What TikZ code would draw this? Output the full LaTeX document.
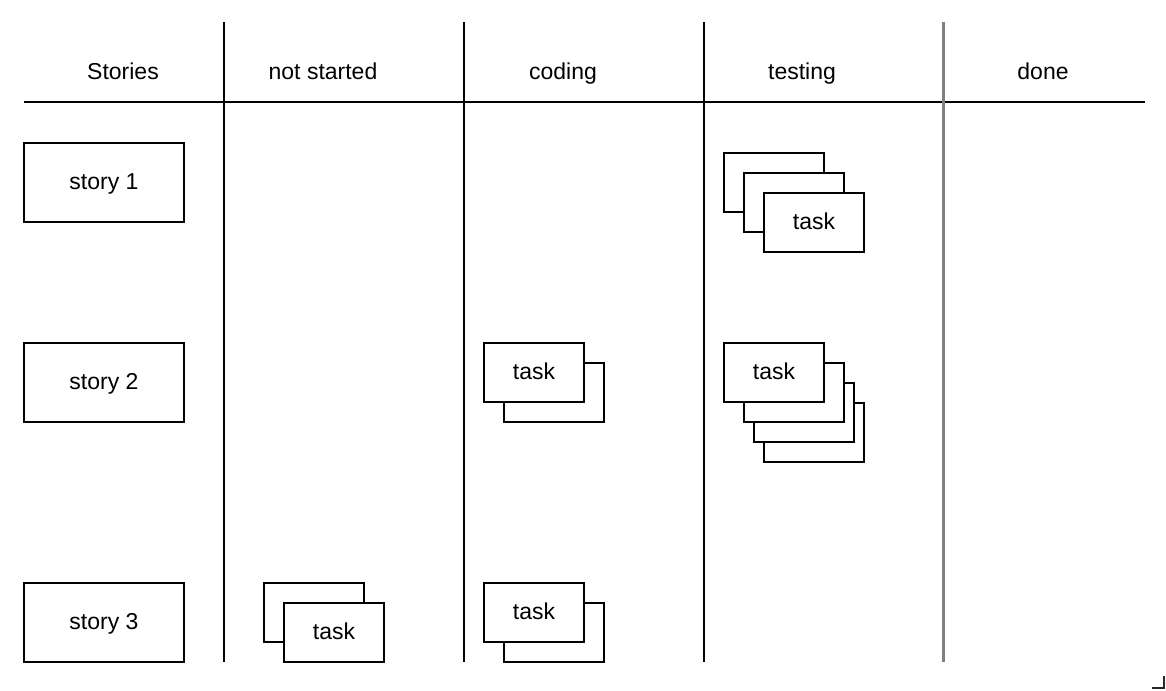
\documentclass[tikz,border=0pt]{standalone}
\usepackage{fontspec}
\setmainfont{Liberation Sans}
\usetikzlibrary{positioning}

\begin{document}
\begin{tikzpicture}[x=1pt,y=1pt,yscale=-1,xscale=1,
  lbl/.style={inner sep=0pt,text height=15,text depth=4,font=\fontsize{23}{27}\selectfont},
  story/.style={draw=black,line width=1.8,fill=white,minimum width=160,minimum height=79,inner sep=0pt,text height=15,text depth=2,font=\fontsize{23}{27}\selectfont},
  card/.style={draw=black,line width=1.8,fill=white,minimum width=100,minimum height=59,inner sep=0pt,text height=15,text depth=2,font=\fontsize{23}{27}\selectfont}]

\useasboundingbox (0,0) rectangle (1166,690);

% Board lines
\coordinate (hl) at (24,102);
\coordinate (hr) at (1145,102);
\draw [line width=2] (hl) -- (hr);
\foreach \xc in {224,464,704} {
  \draw [line width=2] (\xc,22) -- (\xc,662);
}
\draw [line width=3,color={rgb,255:red,128;green,128;blue,128}] (943,22) -- (943,662);

% Text Node
\node [lbl] (hStories) at (123,74) {Stories};
\node [lbl] (hNot) at (323,74) {not started};
\node [lbl] (hCoding) at (563,74) {coding};
\node [lbl] (hTesting) at (802,74) {testing};
\node [lbl] (hDone) at (1043,74) {done};

% Stories
\node [story] (story1) at (104,182.5) {story 1};
\node [story] (story2) at (104,382.5) {story 2};
\node [story] (story3) at (104,622.5) {story 3};

% story 1 tasks
\node [card] (s1test1) at (774,182.5) {};
\node [card] (s1test2) at (794,202.5) {};
\node [card] (s1test3) at (814,222.5) {task};

% story 2 tasks
\node [card] (s2code2) at (554,392.5) {};
\node [card] (s2code1) at (534,372.5) {task};
\node [card] (s2test4) at (814,432.5) {};
\node [card] (s2test3) at (804,412.5) {};
\node [card] (s2test2) at (794,392.5) {};
\node [card] (s2test1) at (774,372.5) {task};

% story 3 tasks
\node [card] (s3not2) at (314,612.5) {};
\node [card] (s3not1) at (334,632.5) {task};
\node [card] (s3code2) at (554,632.5) {};
\node [card] (s3code1) at (534,612.5) {task};

% corner mark
\draw [line width=1.5,color={rgb,255:red,40;green,40;blue,40}] (1152,688) -- (1164,688) -- (1164,676);

\end{tikzpicture}
\end{document}
